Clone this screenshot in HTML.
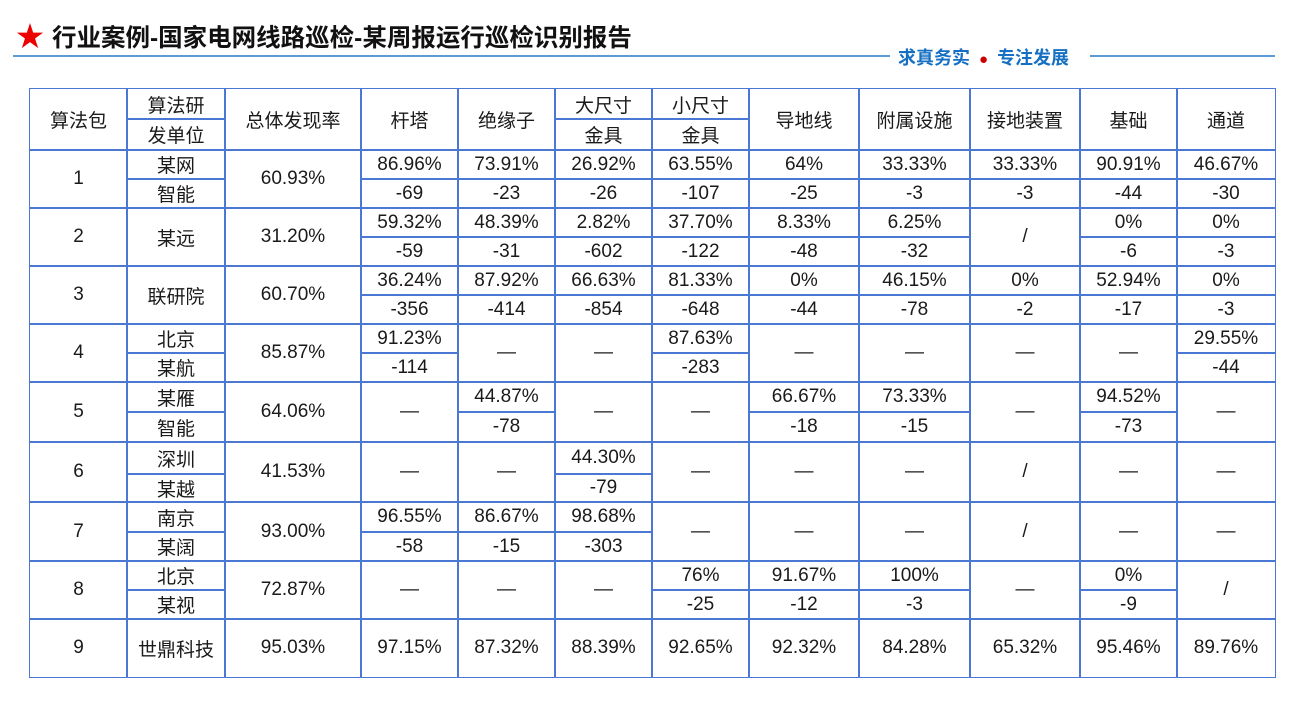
<!DOCTYPE html>
<html><head><meta charset="utf-8">
<style>
body{margin:0;width:1300px;height:710px;background:#fff;position:relative;overflow:hidden;font-family:"Liberation Sans","Noto Sans CJK SC",sans-serif;}
.c{position:absolute;box-sizing:border-box;border:1.5px solid #4a78d4;display:flex;align-items:center;justify-content:center;font-size:19px;color:#1a1a1a;background:transparent;}
#title{position:absolute;left:16px;top:15px;font-size:24.5px;font-weight:bold;color:#111;font-family:"Liberation Sans","Noto Sans CJK SC",sans-serif;white-space:nowrap;}
#title span{color:#e00;font-size:28px;margin-right:8px;}
.ln{position:absolute;height:2px;background:#5b9bd5;top:55px;}
#motto{position:absolute;left:898px;top:44px;font-size:18px;font-weight:bold;color:#1570c4;white-space:nowrap;}
#motto b{color:#c00;font-size:15px;margin:0 9px;}
</style></head><body>
<div id="title"><span>★</span>行业案例-国家电网线路巡检-某周报运行巡检识别报告</div>
<div class="ln" style="left:13px;width:877px"></div>
<div class="ln" style="left:1090px;width:185px"></div>
<div id="motto">求真务实<b>●</b>专注发展</div>
<div id="tbl"></div>
<script>
const colX=[30,127,225,361,458,555,652,749,859,970,1080,1177,1275];
const rowY=[89,119,150,179,208,237,266,295,324,353,382,412,442,474,502,532,561,590,619,648,677];
const packages=["1","2","3","4","5","6","7","8","9"];
const units=[["某网","智能"],["某远"],["联研院"],["北京","某航"],["某雁","智能"],["深圳","某越"],["南京","某阔"],["北京","某视"],["世鼎科技"]];
const overall=["60.93%","31.20%","60.70%","85.87%","64.06%","41.53%","93.00%","72.87%","95.03%"];
const cats=[["杆塔"],["绝缘子"],["大尺寸","金具"],["小尺寸","金具"],["导地线"],["附属设施"],["接地装置"],["基础"],["通道"]];
const rate=[
["86.96%","73.91%","26.92%","63.55%","64%","33.33%","33.33%","90.91%","46.67%"],
["59.32%","48.39%","2.82%","37.70%","8.33%","6.25%","/","0%","0%"],
["36.24%","87.92%","66.63%","81.33%","0%","46.15%","0%","52.94%","0%"],
["91.23%","—","—","87.63%","—","—","—","—","29.55%"],
["—","44.87%","—","—","66.67%","73.33%","—","94.52%","—"],
["—","—","44.30%","—","—","—","/","—","—"],
["96.55%","86.67%","98.68%","—","—","—","/","—","—"],
["—","—","—","76%","91.67%","100%","—","0%","/"],
["97.15%","87.32%","88.39%","92.65%","92.32%","84.28%","65.32%","95.46%","89.76%"]];
const count=[
["-69","-23","-26","-107","-25","-3","-3","-44","-30"],
["-59","-31","-602","-122","-48","-32",null,"-6","-3"],
["-356","-414","-854","-648","-44","-78","-2","-17","-3"],
["-114",null,null,"-283",null,null,null,null,"-44"],
[null,"-78",null,null,"-18","-15",null,"-73",null],
[null,null,"-79",null,null,null,null,null,null],
["-58","-15","-303",null,null,null,null,null,null],
[null,null,null,"-25","-12","-3",null,"-9",null],
[null,null,null,null,null,null,null,null,null]];
const tbl=document.getElementById('tbl');
function cell(c0,c1,r0,r1,txt,name){
  const d=document.createElement('div');
  d.className='c';
  d.style.left=(colX[c0]-0.75)+'px';d.style.top=(rowY[r0]-0.75)+'px';
  d.style.width=(colX[c1]-colX[c0]+1.5)+'px';d.style.height=(rowY[r1]-rowY[r0]+1.5)+'px';
  d.textContent=txt;
  
  
  tbl.appendChild(d);
}
cell(0,1,0,2,"算法包","header-package");
cell(1,2,0,1,"算法研","header-unit-1");
cell(1,2,1,2,"发单位","header-unit-2");
cell(2,3,0,2,"总体发现率","header-overall");
cats.forEach((c,i)=>{
  if(c.length===2){cell(3+i,4+i,0,1,c[0],"header-cat-top");cell(3+i,4+i,1,2,c[1],"header-cat-bottom");}
  else cell(3+i,4+i,0,2,c[0],"header-cat");
});
packages.forEach((p,r)=>{
  const t=2+2*r, m=t+1, b=(r===8)?20:t+2;
  cell(0,1,t,b,p,"package-id");
  if(units[r].length===2){cell(1,2,t,m,units[r][0],"unit-name-top");cell(1,2,m,b,units[r][1],"unit-name-bottom");}
  else cell(1,2,t,b,units[r][0],"unit-name");
  cell(2,3,t,b,overall[r],"overall-rate");
  for(let k=0;k<9;k++){
    if(count[r][k]!==null){cell(3+k,4+k,t,m,rate[r][k],"category-rate");cell(3+k,4+k,m,b,count[r][k],"category-count");}
    else cell(3+k,4+k,t,b,rate[r][k],"category-rate");
  }
});
</script>
</body></html>
